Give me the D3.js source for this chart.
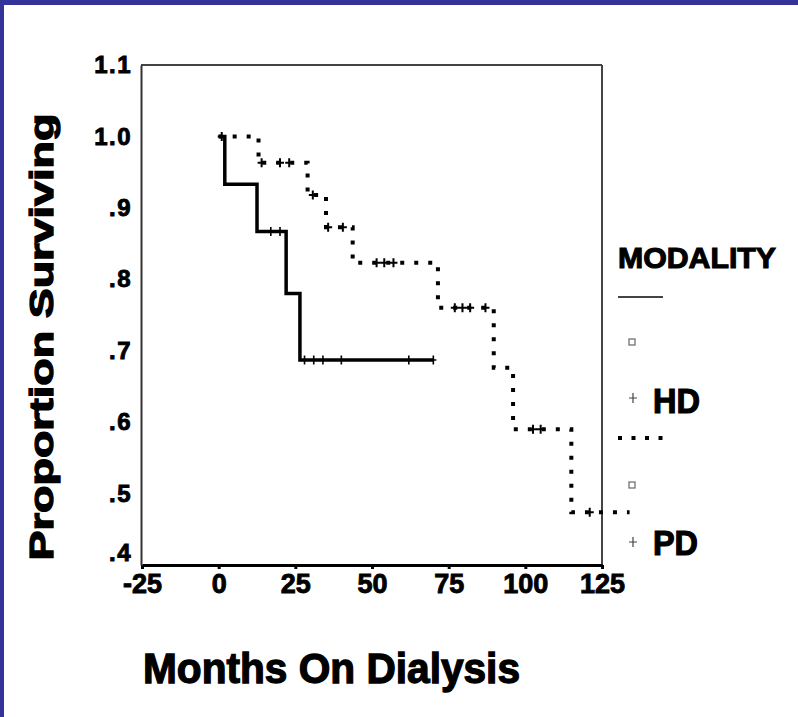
<!DOCTYPE html>
<html><head><meta charset="utf-8">
<script src="https://cdn.jsdelivr.net/npm/d3@7"></script>
<style>
html,body{margin:0;padding:0;background:#fff;}
svg{display:block;}
text{font-family:"Liberation Sans",Arial,sans-serif;font-weight:bold;fill:#000;stroke:#000;}
</style></head>
<body>
<script>
// ---- data ----
const xTicks = [-25, 0, 25, 50, 75, 100, 125];
const xTickLabels = ["-25", "0", "25", "50", "75", "100", "125"];
const yTicks = [1.1, 1.0, 0.9, 0.8, 0.7, 0.6, 0.5, 0.4];
const yTickLabels = ["1.1", "1.0", ".9", ".8", ".7", ".6", ".5", ".4"];

// HD (solid) Kaplan-Meier steps
const hdTime = [0, 2, 12.5, 22, 26.5, 70];
const hdSurv = [1.0, 0.933, 0.867, 0.78, 0.687, 0.687];
const hdCensor = [17, 20, 28, 31, 34, 40, 62, 70];

// PD (dotted) Kaplan-Meier steps
const pdTime = [0, 13, 29, 35, 43.7, 71.5, 89.7, 96, 115, 134];
const pdSurv = [1.0, 0.963, 0.918, 0.873, 0.823, 0.76, 0.676, 0.59, 0.474, 0.474];
const pdCensor = [1, 14, 20, 23, 30.7, 35.7, 40.5, 51.5, 54, 57, 77, 79.5, 82, 87, 102.5, 105, 121];

const legendTitle = "MODALITY";
const groups = ["HD", "PD"];

// ---- drawing ----
const W = 798, H = 717;
const svg = d3.select("body").append("svg").attr("width", W).attr("height", H);
svg.append("rect").attr("width", W).attr("height", H).attr("fill", "#fff");
// blue frame
svg.append("rect").attr("x", 0).attr("y", 0).attr("width", W).attr("height", 5).attr("fill", "#333399");
svg.append("rect").attr("x", 0).attr("y", 0).attr("width", 4).attr("height", H).attr("fill", "#333399");

const x = d3.scaleLinear().domain([-25, 125]).range([142, 602]);
const y = d3.scaleLinear().domain([0.4, 1.1]).range([565, 65]);

// plot frame (top & right)
svg.append("line").attr("x1", x(-25) - 1).attr("x2", x(125)).attr("y1", y(1.1)).attr("y2", y(1.1))
  .attr("stroke", "#444").attr("stroke-width", 2);
svg.append("line").attr("x1", x(125)).attr("x2", x(125)).attr("y1", y(1.1)).attr("y2", y(0.4))
  .attr("stroke", "#444").attr("stroke-width", 2);

// x axis
const gx = svg.append("g").attr("transform", `translate(0,${y(0.4)})`)
  .call(d3.axisBottom(x).tickValues(xTicks).tickSize(4).tickSizeOuter(0)
    .tickFormat((d, i) => xTickLabels[i]));
gx.select(".domain").attr("stroke", "#000").attr("stroke-width", 3);
gx.selectAll(".tick line").attr("stroke", "#000").attr("stroke-width", 3);
gx.selectAll(".tick text").attr("y", 9).attr("font-size", 27).attr("font-family", "Liberation Sans, Arial")
  .attr("font-weight", "bold").attr("fill", "#000").attr("stroke", "#000").attr("stroke-width", 0.9);

// y axis
const gy = svg.append("g").attr("transform", `translate(${x(-25) - 1},0)`)
  .call(d3.axisLeft(y).tickValues(yTicks).tickSize(0).tickSizeOuter(0)
    .tickFormat((d, i) => yTickLabels[i]));
gy.select(".domain").attr("stroke", "#333").attr("stroke-width", 2);
gy.selectAll(".tick text").attr("x", -9).attr("font-size", 24).attr("font-family", "Liberation Sans, Arial")
  .attr("font-weight", "bold").attr("fill", "#000").attr("stroke", "#000").attr("stroke-width", 0.9)
  .attr("letter-spacing", "1.5px")
  .attr("dy", (d) => d === 0.4 ? "-0.2em" : "0.32em");

// step curves
const line = d3.line().x(d => x(d[0])).y(d => y(d[1])).curve(d3.curveStepAfter);
const hdPts = hdTime.map((t, i) => [t, hdSurv[i]]);
const pdPts = pdTime.map((t, i) => [t, pdSurv[i]]);

svg.append("path").attr("d", line(pdPts)).attr("fill", "none").attr("stroke", "#000")
  .attr("stroke-width", 4).attr("stroke-dasharray", "4 10");
svg.append("path").attr("d", line(hdPts)).attr("fill", "none").attr("stroke", "#000")
  .attr("stroke-width", 3.5);

function survAt(times, surv, t) {
  let s = surv[0];
  for (let i = 0; i < times.length; i++) if (times[i] <= t) s = surv[i];
  return s;
}
function plus(cx, cy, h, v, sw, col) {
  return svg.append("path").attr("d", `M${cx - h},${cy}H${cx + h}M${cx},${cy - v}V${cy + v}`)
    .attr("stroke", col).attr("stroke-width", sw).attr("fill", "none");
}
hdCensor.forEach(t => plus(x(t), y(survAt(hdTime, hdSurv, t)), 3, 4.5, 1.6, "#000"));
pdCensor.forEach(t => plus(x(t), y(survAt(pdTime, pdSurv, t)), 4, 4.5, 2, "#000"));

// axis titles
svg.append("text").attr("transform", "translate(53,337) rotate(-90)")
  .attr("text-anchor", "middle").attr("font-size", 34).attr("stroke-width", 1.3)
  .attr("textLength", 447).attr("lengthAdjust", "spacingAndGlyphs")
  .text("Proportion Surviving");
svg.append("text").attr("x", 143).attr("y", 683).attr("font-size", 42).attr("stroke-width", 1.3)
  .attr("textLength", 377).attr("lengthAdjust", "spacingAndGlyphs")
  .text("Months On Dialysis");

// legend
svg.append("text").attr("x", 618).attr("y", 268).attr("font-size", 30).attr("stroke-width", 1.1)
  .attr("textLength", 158).attr("lengthAdjust", "spacingAndGlyphs").text(legendTitle);
svg.append("line").attr("x1", 618).attr("x2", 663).attr("y1", 297).attr("y2", 297)
  .attr("stroke", "#444").attr("stroke-width", 2);
svg.append("rect").attr("x", 629).attr("y", 339).attr("width", 6).attr("height", 6)
  .attr("fill", "none").attr("stroke", "#666").attr("stroke-width", 1.2);
plus(633, 398, 4, 5, 1.2, "#444");
svg.append("text").attr("x", 653).attr("y", 413).attr("font-size", 35).attr("stroke-width", 1.2)
  .attr("textLength", 47).attr("lengthAdjust", "spacingAndGlyphs").text(groups[0]);

svg.append("line").attr("x1", 618).attr("x2", 664).attr("y1", 438).attr("y2", 438)
  .attr("stroke", "#000").attr("stroke-width", 4).attr("stroke-dasharray", "4 9.5");
svg.append("rect").attr("x", 629).attr("y", 482).attr("width", 6).attr("height", 6)
  .attr("fill", "none").attr("stroke", "#666").attr("stroke-width", 1.2);
plus(633, 542, 4, 5, 1.2, "#444");
svg.append("text").attr("x", 653).attr("y", 555).attr("font-size", 35).attr("stroke-width", 1.2)
  .attr("textLength", 45).attr("lengthAdjust", "spacingAndGlyphs").text(groups[1]);
</script>
</body></html>
